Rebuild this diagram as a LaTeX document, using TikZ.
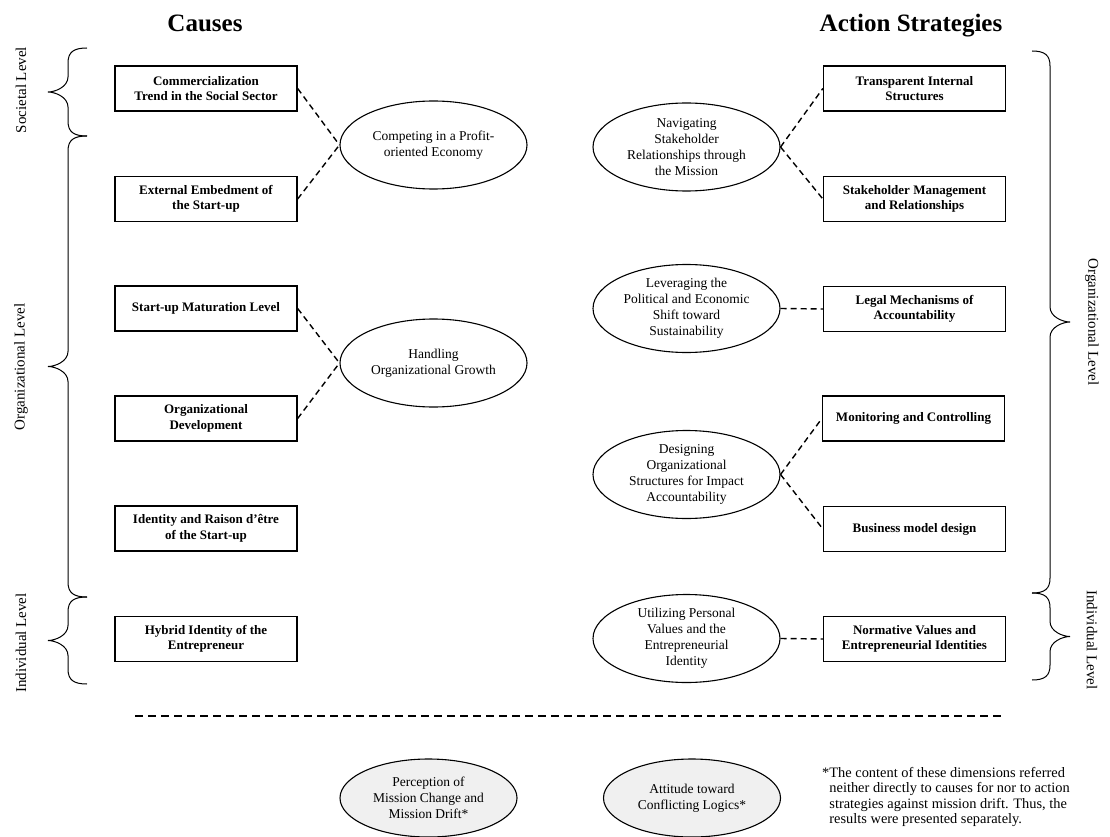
\documentclass[tikz,border=0pt]{standalone}
\usepackage{fontspec}
\setmainfont{Liberation Serif}
\usetikzlibrary{shapes.geometric,calc}
\newcommand{\levelbrace}[5]{% #1 end x, #2 spine x, #3 tip x, #4 y top, #5 y bottom
  \draw[bracestyle] (#1,#4) .. controls ({#2+0.3*(#1-#2)},#4) and (#2,{#4+4}) .. (#2,{#4+15})
    -- (#2,{(#4+#5)/2-15}) .. controls (#2,{(#4+#5)/2-5}) and ({#3+0.35*(#2-#3)},{(#4+#5)/2}) .. (#3,{(#4+#5)/2})
    .. controls ({#3+0.35*(#2-#3)},{(#4+#5)/2}) and (#2,{(#4+#5)/2+5}) .. (#2,{(#4+#5)/2+15})
    -- (#2,{#5-15}) .. controls (#2,{#5-4}) and ({#2+0.3*(#1-#2)},#5) .. (#1,#5);}
\begin{document}
\begin{tikzpicture}[x=1pt,y=-1pt,
  box/.style={draw, line width=1.3pt, minimum width=182pt, minimum height=45pt, inner sep=0pt, align=center, font=\fontsize{13}{15.5}\selectfont\bfseries},
  ell/.style={draw, ellipse, line width=1.1pt, minimum width=187pt, minimum height=88pt, inner sep=0pt},
  etext/.style={align=center, font=\fontsize{13.5}{16}\selectfont, inner sep=0pt},
  link/.style={dash pattern=on 6pt off 4pt, line width=1.4pt},
  sep/.style={dash pattern=on 8pt off 5pt, line width=1.4pt},
  lvl/.style={font=\fontsize{15}{18}\selectfont, inner sep=0pt},
  bracestyle/.style={line width=1pt},
  titlestyle/.style={font=\fontsize{25}{30}\selectfont\bfseries, inner sep=0pt, anchor=base},
  note/.style={font=\fontsize{14.4}{15.4}\selectfont, align=left, inner sep=0pt, anchor=west}]
\useasboundingbox (0,0) rectangle (1110,837);

% titles
\node[titlestyle] (tc) at (205,32) {Causes};
\node[titlestyle] (ta) at (911,32) {Action Strategies};

% left boxes
\node[box] (c1) at (206,88.5) {Commercialization\\Trend in the Social Sector};
\node[box] (c2) at (206,199) {External Embedment of\\the Start-up};
\node[box] (c3) at (206,308.5) {Start-up Maturation Level};
\node[box] (c4) at (206,418.5) {Organizational\\Development};
\node[box] (c5) at (206,528.5) {Identity and Raison d'être\\of the Start-up};
\node[box] (c6) at (206,639) {Hybrid Identity of the\\Entrepreneur};

% right boxes
\node[box] (a1) at (914.5,88.5) {Transparent Internal\\Structures};
\node[box] (a2) at (914.5,199) {Stakeholder Management\\and Relationships};
\node[box] (a3) at (914.5,309) {Legal Mechanisms of\\Accountability};
\node[box] (a4) at (913.5,418.5) {Monitoring and Controlling};
\node[box] (a5) at (914.5,529) {Business model design};
\node[box] (a6) at (914.5,639) {Normative Values and\\Entrepreneurial Identities};

% left ellipses
\node[ell] (e1) at (433.5,145) {};
\node[etext] (e1t) at (e1) {Competing in a Profit-\\oriented Economy};
\node[ell] (e2) at (433.5,363) {};
\node[etext] (e2t) at (e2) {Handling\\Organizational Growth};

% right ellipses
\node[ell] (r1) at (686.5,147) {};
\node[etext] (r1t) at (r1) {Navigating\\Stakeholder\\Relationships through\\the Mission};
\node[ell] (r2) at (686.5,308.5) {};
\node[etext] (r2t) at (r2) {Leveraging the\\Political and Economic\\Shift toward\\Sustainability};
\node[ell] (r3) at (686.5,474.5) {};
\node[etext] (r3t) at (r3) {Designing\\Organizational\\Structures for Impact\\Accountability};
\node[ell] (r4) at (686.5,638.5) {};
\node[etext] (r4t) at (r4) {Utilizing Personal\\Values and the\\Entrepreneurial\\Identity};

% connectors
\draw[link] (c1.east) -- (e1.west);
\draw[link] (c2.east) -- (e1.west);
\draw[link] (c3.east) -- (e2.west);
\draw[link] (c4.east) -- (e2.west);
\draw[link] (r1.east) -- (a1.west);
\draw[link] (r1.east) -- (a2.west);
\draw[link] (r2.east) -- (a3.west);
\draw[link] (r3.east) -- (a4.west);
\draw[link] (r3.east) -- (a5.west);
\draw[link] (r4.east) -- (a6.west);

% braces and level labels
\levelbrace{87}{68}{48}{48}{136}
\levelbrace{87}{68}{48}{136}{597}
\levelbrace{87}{68}{48}{597}{684}
\levelbrace{1032}{1050}{1070}{51}{593}
\levelbrace{1032}{1050}{1070}{593}{680}
\node[lvl, rotate=90] (l1) at (21,90) {Societal Level};
\node[lvl, rotate=90] (l2) at (21,367) {Organizational Level};
\node[lvl, rotate=90] (l3) at (21,643) {Individual Level};
\node[lvl, rotate=-90] (l4) at (1092,322) {Organizational Level};
\node[lvl, rotate=-90] (l5) at (1092,640) {Individual Level};

% separator
\coordinate (s1) at (135,716);
\coordinate (s2) at (1005,716);
\draw[sep] (s1) -- (s2);

% bottom ellipses
\node[ell, fill=black!6, minimum width=177pt, minimum height=78pt] (b1) at (428.5,798) {};
\node[etext] (b1t) at (b1) {Perception of\\Mission Change and\\Mission Drift*};
\node[ell, fill=black!6, minimum width=177pt, minimum height=78pt] (b2) at (692,798) {};
\node[etext] (b2t) at (b2) {Attitude toward\\Conflicting Logics*};

% footnote
\node[note] (fn) at (822,797) {*The content of these dimensions referred\\
\hphantom{*}neither directly to causes for nor to action\\
\hphantom{*}strategies against mission drift. Thus, the\\
\hphantom{*}results were presented separately.};
\end{tikzpicture}
\end{document}
